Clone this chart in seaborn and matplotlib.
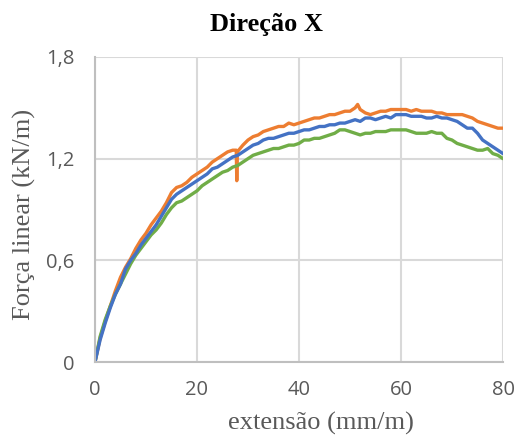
import matplotlib
matplotlib.use("Agg")
import matplotlib.pyplot as plt
import seaborn as sns
import pandas as pd

# Extensão (mm/m) e força linear (kN/m) dos três ensaios na direção X
ext_laranja = [0, 1, 2, 3, 4, 5, 6, 7, 8, 9, 10, 11, 12, 13, 14, 15, 16, 17, 18, 19,
               20, 21, 22, 23, 24, 25, 26, 27, 27.7, 27.8, 27.9, 29, 30, 31, 32, 33,
               34, 35, 36, 37, 38, 39, 40, 41, 42, 43, 44, 45, 46, 47, 48, 49, 50, 51,
               51.5, 52, 53, 54, 55, 56, 57, 58, 59, 60, 61, 62, 63, 64, 65, 66, 67,
               68, 69, 70, 71, 72, 73, 74, 75, 76, 77, 78, 79, 80]
forca_laranja = [0.00, 0.14, 0.24, 0.33, 0.42, 0.50, 0.56, 0.61, 0.67, 0.72, 0.76, 0.81,
                 0.85, 0.89, 0.94, 1.00, 1.03, 1.04, 1.06, 1.09, 1.11, 1.13, 1.15, 1.18,
                 1.20, 1.22, 1.24, 1.25, 1.25, 1.07, 1.24, 1.28, 1.31, 1.33, 1.34, 1.36,
                 1.37, 1.38, 1.39, 1.39, 1.41, 1.40, 1.41, 1.42, 1.43, 1.44, 1.44, 1.45,
                 1.46, 1.46, 1.47, 1.48, 1.48, 1.50, 1.52, 1.49, 1.47, 1.46, 1.47, 1.48,
                 1.48, 1.49, 1.49, 1.49, 1.49, 1.48, 1.49, 1.48, 1.48, 1.48, 1.47, 1.47,
                 1.46, 1.46, 1.46, 1.46, 1.45, 1.44, 1.42, 1.41, 1.40, 1.39, 1.38, 1.38]

ext_azul = list(range(0, 81))
forca_azul = [0.00, 0.13, 0.23, 0.32, 0.40, 0.46, 0.55, 0.60, 0.64, 0.69, 0.73, 0.77,
              0.81, 0.86, 0.91, 0.96, 0.99, 1.01, 1.03, 1.05, 1.07, 1.09, 1.11, 1.14,
              1.15, 1.17, 1.19, 1.21, 1.22, 1.24, 1.26, 1.28, 1.29, 1.31, 1.32, 1.32,
              1.33, 1.34, 1.35, 1.35, 1.36, 1.37, 1.37, 1.38, 1.39, 1.39, 1.40, 1.40,
              1.41, 1.41, 1.42, 1.43, 1.42, 1.44, 1.44, 1.43, 1.44, 1.45, 1.44, 1.46,
              1.46, 1.46, 1.45, 1.45, 1.45, 1.44, 1.44, 1.45, 1.44, 1.44, 1.43, 1.42,
              1.40, 1.38, 1.38, 1.35, 1.31, 1.29, 1.27, 1.25, 1.23]

ext_verde = list(range(0, 81))
forca_verde = [0.00, 0.15, 0.25, 0.33, 0.40, 0.46, 0.52, 0.58, 0.63, 0.67, 0.71, 0.75,
               0.78, 0.82, 0.87, 0.91, 0.94, 0.95, 0.97, 0.99, 1.01, 1.04, 1.06, 1.08,
               1.10, 1.12, 1.13, 1.15, 1.16, 1.18, 1.20, 1.22, 1.23, 1.24, 1.25, 1.26,
               1.26, 1.27, 1.28, 1.28, 1.29, 1.31, 1.31, 1.32, 1.32, 1.33, 1.34, 1.35,
               1.37, 1.37, 1.36, 1.35, 1.34, 1.35, 1.35, 1.36, 1.36, 1.36, 1.37, 1.37,
               1.37, 1.37, 1.36, 1.35, 1.35, 1.35, 1.36, 1.35, 1.35, 1.32, 1.31, 1.29,
               1.28, 1.27, 1.26, 1.25, 1.25, 1.26, 1.23, 1.22, 1.20]

x_ticks = [0, 20, 40, 60, 80]
y_ticks = [0, 0.6, 1.2, 1.8]
y_tick_labels = ["0", "0,6", "1,2", "1,8"]

cores = {"Ensaio 1": "#ED7D31", "Ensaio 2": "#70AD47", "Ensaio 3": "#4472C4"}

df = pd.concat([
    pd.DataFrame({"ext": ext_laranja, "forca": forca_laranja, "ensaio": "Ensaio 1"}),
    pd.DataFrame({"ext": ext_verde, "forca": forca_verde, "ensaio": "Ensaio 2"}),
    pd.DataFrame({"ext": ext_azul, "forca": forca_azul, "ensaio": "Ensaio 3"}),
], ignore_index=True)

sns.set_style("white")
plt.rcParams["font.family"] = ["Open Sans", "DejaVu Sans"]

fig = plt.figure(figsize=(5.16, 4.37), dpi=100)
ax = fig.add_axes([95 / 516, 1 - 362 / 437, 408 / 516, 305 / 437])

sns.lineplot(data=df, x="ext", y="forca", hue="ensaio", palette=cores,
             hue_order=["Ensaio 1", "Ensaio 2", "Ensaio 3"], estimator=None,
             sort=False, linewidth=2.4, legend=False, ax=ax)

ax.set_xlim(0, 80)
ax.set_ylim(0, 1.8)
ax.set_xticks(x_ticks)
ax.set_xticklabels([str(v) for v in x_ticks])
ax.set_yticks(y_ticks)
ax.set_yticklabels(y_tick_labels)
ax.tick_params(axis="both", length=0, labelsize=14.5, labelcolor="#595959")
ax.tick_params(axis="x", pad=13)
ax.tick_params(axis="y", pad=15)

ax.grid(True, color="#D9D9D9", linewidth=1.5)
ax.set_axisbelow(True)
for side in ["top", "right"]:
    ax.spines[side].set_visible(False)
for side in ["left", "bottom"]:
    ax.spines[side].set_color("#BFBFBF")
    ax.spines[side].set_linewidth(1.5)
ax.set_xlabel("")
ax.set_ylabel("")

serif = ["Liberation Serif", "DejaVu Serif"]
fig.text(266 / 516, 1 - 31 / 437, "Direção X", ha="center", va="baseline",
         fontsize=19, fontweight="bold", family=serif, color="black")
fig.text(321 / 516, 1 - 430 / 437, "extensão (mm/m)", ha="center", va="baseline",
         fontsize=19, family=serif, color="#595959")
fig.text(24 / 516, 1 - 214 / 437, "Força linear (kN/m)", ha="center", va="center",
         rotation=90, fontsize=19, family=serif, color="#595959")

fig.savefig("out.png", dpi=100)
